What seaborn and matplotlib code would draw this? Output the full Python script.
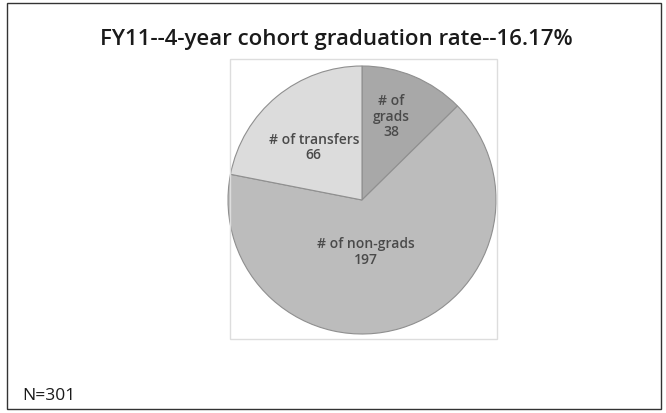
import matplotlib
matplotlib.use("Agg")
import matplotlib.pyplot as plt
import seaborn as sns
from matplotlib.patches import Rectangle

categories = ["# of\ngrads\n38", "# of non-grads\n197", "# of transfers\n66"]
values = [38, 197, 66]
title = "FY11--4-year cohort graduation rate--16.17%"
note = "N=301"

sns.set_theme(style="white")
plt.rcParams['font.family'] = ['Open Sans', 'DejaVu Sans']

colors = ["#a8a8a8", "#bcbcbc", "#dcdcdc"]

fig = plt.figure(figsize=(6.66, 4.14), dpi=100)
fig.patch.set_facecolor("white")

# outer border
fig.patches.append(Rectangle((7/666, 4/414), 654/666, 406/414, transform=fig.transFigure,
                             fill=False, edgecolor="#333333", linewidth=1.0))
# faint image frame around pie
fig.patches.append(Rectangle((230/666, (414-340)/414), 267/666, 280/414, transform=fig.transFigure,
                             fill=False, edgecolor="#dddddd", linewidth=1.0))

cx, cy, r = 362, 201, 134
ax = fig.add_axes([(cx - r) / 666, (414 - cy - r) / 414, 2 * r / 666, 2 * r / 414])
wedges, texts = ax.pie(values, labels=categories, colors=colors, startangle=90,
                       counterclock=False, labeldistance=0.5,
                       wedgeprops=dict(edgecolor="#8f8f8f", linewidth=0.8),
                       textprops=dict(fontsize=10, color="#4a4a4a", ha="center", va="center",
                                      fontweight="semibold", linespacing=1.15))
label_pos = [(0.22, 0.63), (0.03, -0.38), (-0.36, 0.40)]
for t, p in zip(texts, label_pos):
    t.set_position(p)
    t.set_ha("center")
    t.set_va("center")
ax.set_xlim(-1.0, 1.0)
ax.set_ylim(-1.0, 1.0)
ax.set_aspect("auto")
ax.axis("off")

fig.text(336/666, 1 - 45/414, title, ha="center", va="baseline", fontsize=16,
         fontweight="semibold", color="#1a1a1a")
fig.text(22/666, 1 - 400/414, note, ha="left", va="baseline", fontsize=12.5, color="#1a1a1a")

fig.savefig("out.png", dpi=100)
